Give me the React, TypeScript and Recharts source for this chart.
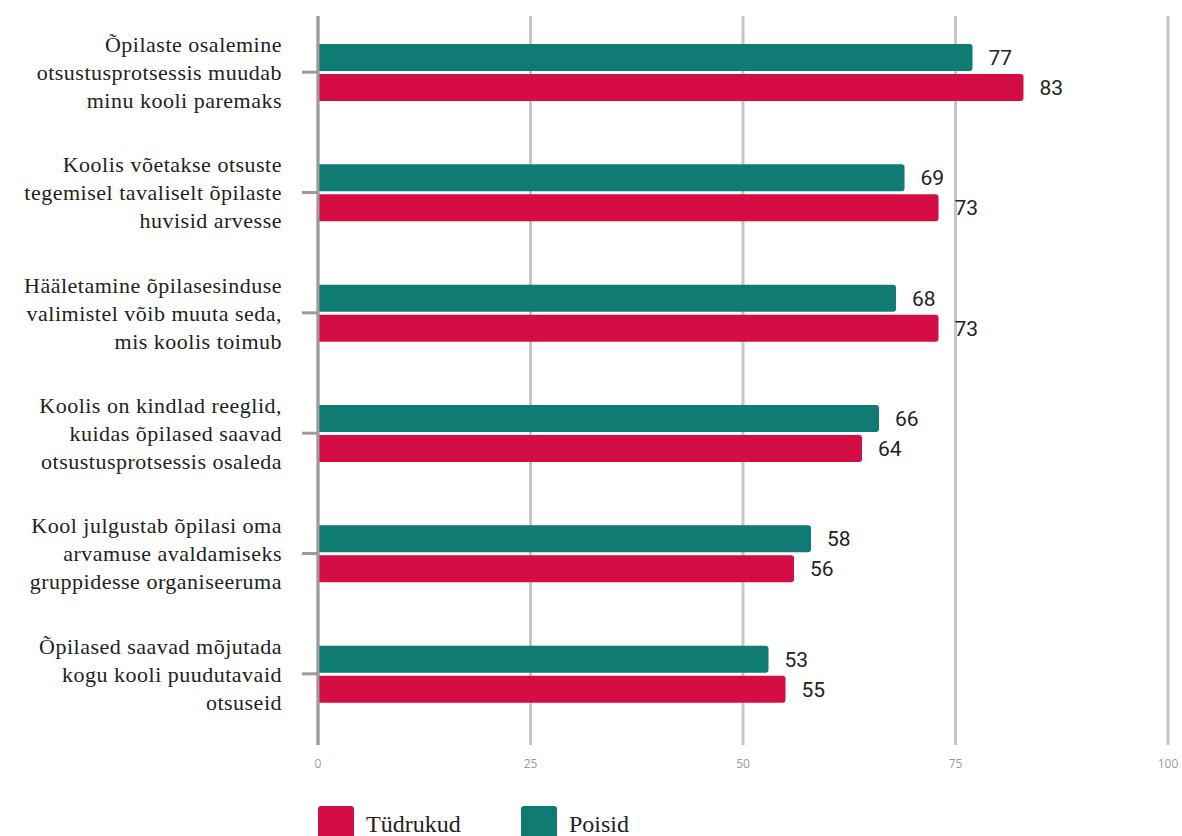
import React from "react";
import { BarChart, Bar, XAxis, YAxis, CartesianGrid, LabelList } from "recharts";

const categories = [
  "Õpilaste osalemine\notsustusprotsessis muudab\nminu kooli paremaks",
  "Koolis võetakse otsuste\ntegemisel tavaliselt õpilaste\nhuvisid arvesse",
  "Hääletamine õpilasesinduse\nvalimistel võib muuta seda,\nmis koolis toimub",
  "Koolis on kindlad reeglid,\nkuidas õpilased saavad\notsustusprotsessis osaleda",
  "Kool julgustab õpilasi oma\narvamuse avaldamiseks\ngruppidesse organiseeruma",
  "Õpilased saavad mõjutada\nkogu kooli puudutavaid\notsuseid",
];
const poisid = [77, 69, 68, 66, 58, 53];
const tydrukud = [83, 73, 73, 64, 56, 55];
const xTicks = [0, 25, 50, 75, 100];

const TEAL = "#0f7b73";
const RED = "#d40d44";

const data = categories.map((name, i) => ({
  name,
  poisid: poisid[i],
  tydrukud: tydrukud[i],
}));

function CategoryTick(props: any) {
  const { x, y, payload } = props;
  const lines = String(payload.value).split("\n");
  const lh = 28;
  const start = -((lines.length - 1) * lh) / 2;
  return (
    <text
      x={x}
      y={y}
      textAnchor="end"
      fill="#222"
      fontFamily="'Liberation Serif', serif"
      fontSize={22}
      letterSpacing={0.5}
    >
      {lines.map((l, i) => (
        <tspan key={i} x={x} y={y + start + i * lh} dy="0.35em">
          {l}
        </tspan>
      ))}
    </text>
  );
}

export default function App() {
  return (
    <div style={{ position: "absolute", left: 0, top: 0, width: 1182, height: 836, background: "#fff", overflow: "hidden" }}>
      <BarChart
        width={1182}
        height={790}
        data={data}
        layout="vertical"
        margin={{ top: 16, right: 14, left: 0, bottom: 0 }}
        barSize={27}
        barGap={3}
      >
        <CartesianGrid horizontal={false} stroke="#c6c6c6" strokeWidth={3} />
        <XAxis
          type="number"
          domain={[0, 100]}
          ticks={xTicks}
          axisLine={false}
          tickLine={false}
          tickMargin={8}
          height={45}
          tick={{ fill: "#9a9a9a", fontSize: 12, fontFamily: "'Open Sans', sans-serif" }}
        />
        <YAxis
          type="category"
          dataKey="name"
          width={318}
          padding={{ top: -4, bottom: 11 }}
          axisLine={{ stroke: "#9b9b9f", strokeWidth: 3 }}
          tickLine={{ stroke: "#9b9b9f", strokeWidth: 3 }}
          tickSize={16}
          tickMargin={20}
          tick={<CategoryTick />}
          interval={0}
        />
        <Bar dataKey="poisid" fill={TEAL} radius={[0, 3, 3, 0]} isAnimationActive={false}>
          <LabelList
            dataKey="poisid"
            position="right"
            offset={16}
            fill="#222"
            fontSize={21}
            fontFamily="Roboto, sans-serif"
          />
        </Bar>
        <Bar dataKey="tydrukud" fill={RED} radius={[0, 3, 3, 0]} isAnimationActive={false}>
          <LabelList
            dataKey="tydrukud"
            position="right"
            offset={16}
            fill="#222"
            fontSize={21}
            fontFamily="Roboto, sans-serif"
          />
        </Bar>
      </BarChart>
      <div
        style={{
          position: "absolute",
          left: 318,
          top: 806,
          display: "flex",
          alignItems: "center",
          fontFamily: "'Liberation Serif', serif",
          fontSize: 24,
          color: "#222",
        }}
      >
        <div style={{ width: 36, height: 36, background: RED, borderRadius: 3 }} />
        <span style={{ marginLeft: 12, width: 155 }}>Tüdrukud</span>
        <div style={{ width: 36, height: 36, background: TEAL, borderRadius: 3 }} />
        <span style={{ marginLeft: 12 }}>Poisid</span>
      </div>
    </div>
  );
}
